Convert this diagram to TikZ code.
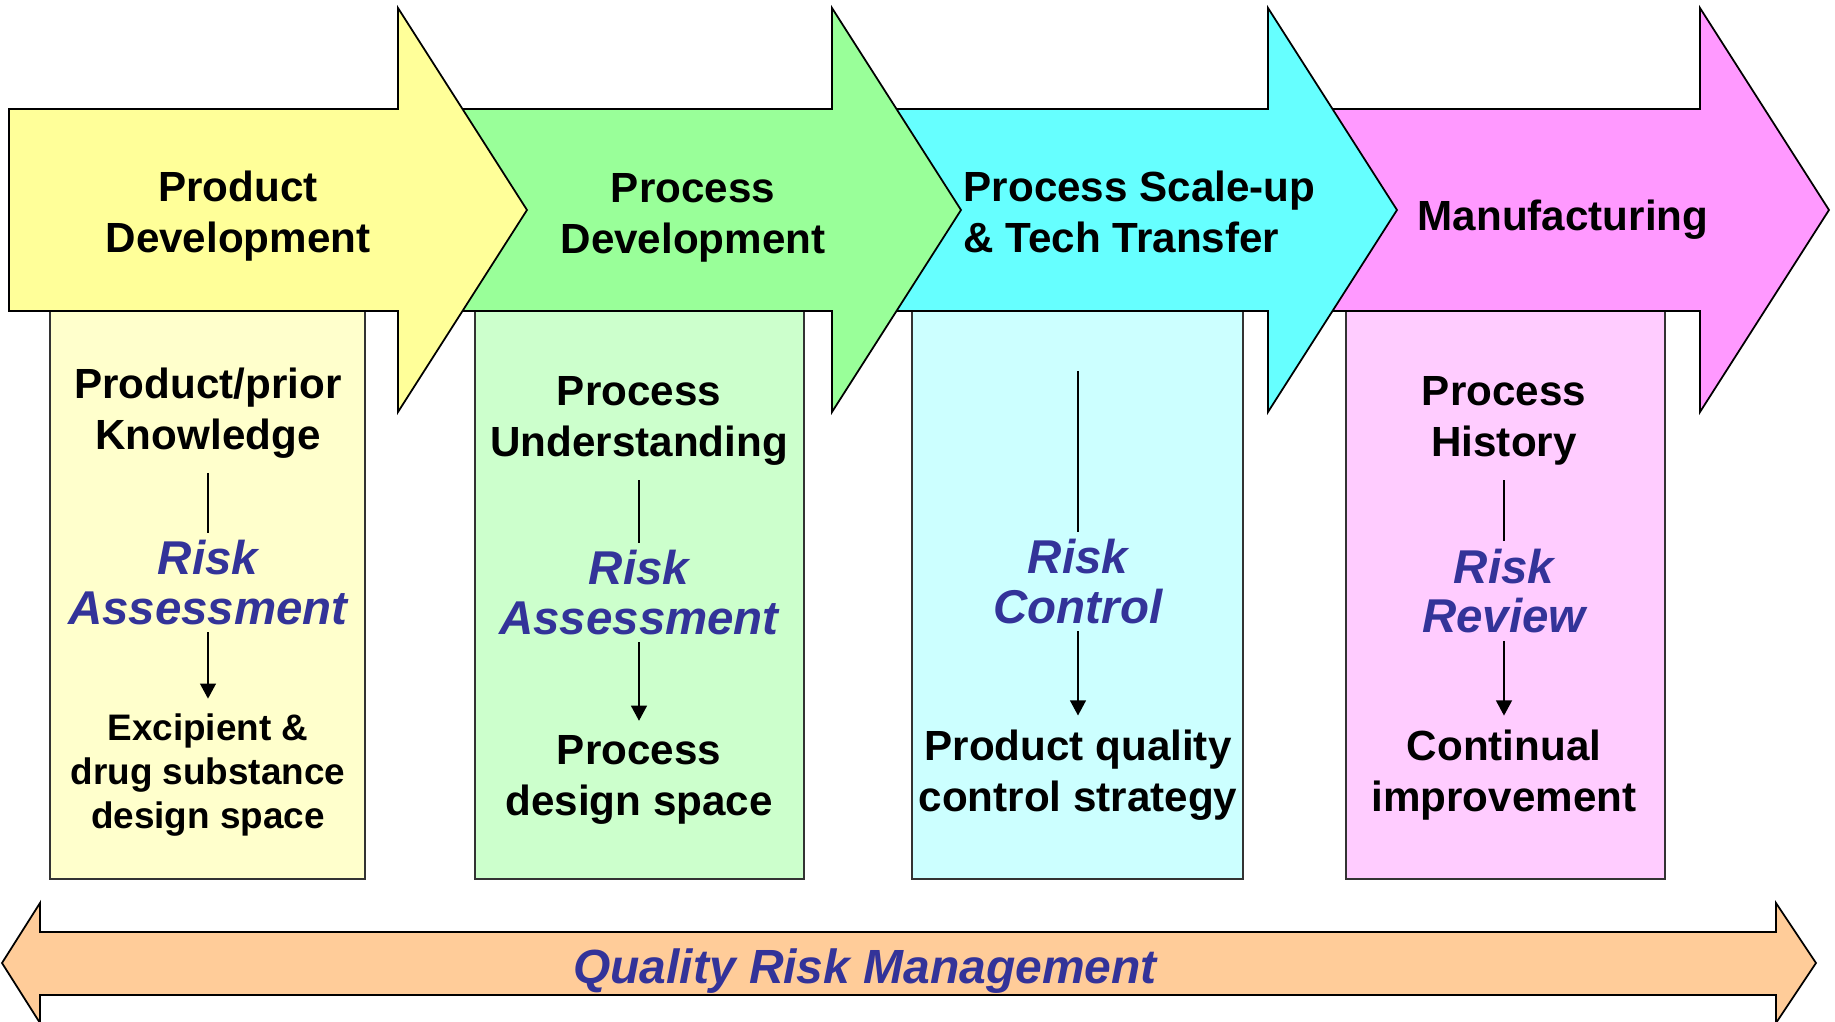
\documentclass[tikz,border=0pt]{standalone}
\usepackage{fontspec}
\setmainfont{Liberation Sans}
\usetikzlibrary{
  arrows.meta,
  positioning,
}
\definecolor{armYellow}{HTML}{FFFF99}
\definecolor{armGreen}{HTML}{99FF99}
\definecolor{armCyan}{HTML}{66FFFF}
\definecolor{armPink}{HTML}{FF99FF}
\definecolor{boxYellow}{HTML}{FFFFCC}
\definecolor{boxGreen}{HTML}{CCFFCC}
\definecolor{boxCyan}{HTML}{CCFFFF}
\definecolor{boxPink}{HTML}{FFCCFF}
\definecolor{qrmOrange}{HTML}{FFCC99}
\definecolor{riskBlue}{HTML}{333399}

\begin{document}
\begin{tikzpicture}[
  hdr/.style={font=\fontsize{12}{14.5}\selectfont\bfseries, align=center, inner sep=0pt},
  know/.style={font=\fontsize{12}{14.5}\selectfont\bfseries, align=center, inner sep=4pt},
  risk/.style={font=\fontsize{13.5}{14}\selectfont\bfseries\itshape, text=riskBlue,
               align=center, inner sep=2pt},
  small/.style={font=\fontsize{10.5}{12.6}\selectfont\bfseries, align=center, inner sep=4pt},
  link/.style={line width=0.5pt},
  flow/.style={line width=0.5pt, -{Triangle[width=4.5pt,length=4.3pt]}},
]
  \useasboundingbox (0,0) rectangle (18.35,10.21);

  % stage boxes under the arrows
  \foreach \c/\l/\r in {boxYellow/0.50/3.65, boxGreen/4.75/8.04,
                        boxCyan/9.12/12.43, boxPink/13.46/16.65}
    \draw[fill=\c, draw=black!80, line width=0.5pt] (\l,1.42) rectangle (\r,7.10);

  % phase arrows, right to left so each head lies over the next body
  \foreach \c/\l/\b in {armPink/12.80/17.00, armCyan/8.45/12.68,
                        armGreen/4.10/8.32, armYellow/0.09/3.98}
    \draw[fill=\c, line width=0.5pt]
      (\l,7.10) -- (\l,9.12) -- (\b,9.12) -- (\b,10.13) -- ({\b+1.29},8.11)
      -- (\b,6.09) -- (\b,7.10) -- cycle;

  \node[hdr] (ph1) at (2.38,8.045) {Product\\Development};
  \node[hdr] (ph2) at (6.93,8.035) {Process\\Development};
  \node[hdr, align=left, anchor=west] (ph3) at (9.63,8.09) {Process Scale-up\\\& Tech Transfer};
  \node[hdr] (ph4) at (15.63,8.015) {Manufacturing};

  % product development
  \node[know] (in1) at (2.08,6.08) {Product/prior\\Knowledge};
  \node[risk] (ra1) at (2.08,4.385) {Risk\\Assessment};
  \node[small] (out1) at (2.08,2.46) {Excipient \&\\drug substance\\design space};
  \draw[link] (in1) -- (ra1);
  \draw[flow] (ra1) -- (out1);

  % process development
  \node[know] (in2) at (6.39,6.00) {Process\\Understanding};
  \node[risk] (ra2) at (6.39,4.285) {Risk\\Assessment};
  \node[know] (out2) at (6.39,2.41) {Process\\design space};
  \draw[link] (in2) -- (ra2);
  \draw[flow] (ra2) -- (out2);

  % scale-up and transfer
  \coordinate (top3) at (10.78,6.50);
  \node[risk] (ra3) at (10.78,4.395) {Risk\\Control};
  \node[know] (out3) at (10.78,2.455) {Product quality\\control strategy};
  \draw[link] (top3) -- (ra3);
  \draw[flow] (ra3) -- (out3);

  % manufacturing
  \node[know] (in4) at (15.04,6.00) {Process\\History};
  \node[risk] (ra4) at (15.04,4.30) {Risk\\Review};
  \node[know] (out4) at (15.04,2.455) {Continual\\improvement};
  \draw[link] (in4) -- (ra4);
  \draw[flow] (ra4) -- (out4);

  % double arrow along the bottom
  \draw[fill=qrmOrange, line width=0.5pt]
    (0.02,0.58) -- (0.40,1.18) -- (0.40,0.89) -- (17.76,0.89) -- (17.76,1.18)
    -- (18.16,0.58) -- (17.76,-0.02) -- (17.76,0.26) -- (0.40,0.26)
    -- (0.40,-0.02) -- cycle;
  \node[font=\fontsize{13.65}{16}\selectfont\bfseries\itshape, text=riskBlue]
    (qrm) at (8.65,0.50) {Quality Risk Management};
\end{tikzpicture}
\end{document}
